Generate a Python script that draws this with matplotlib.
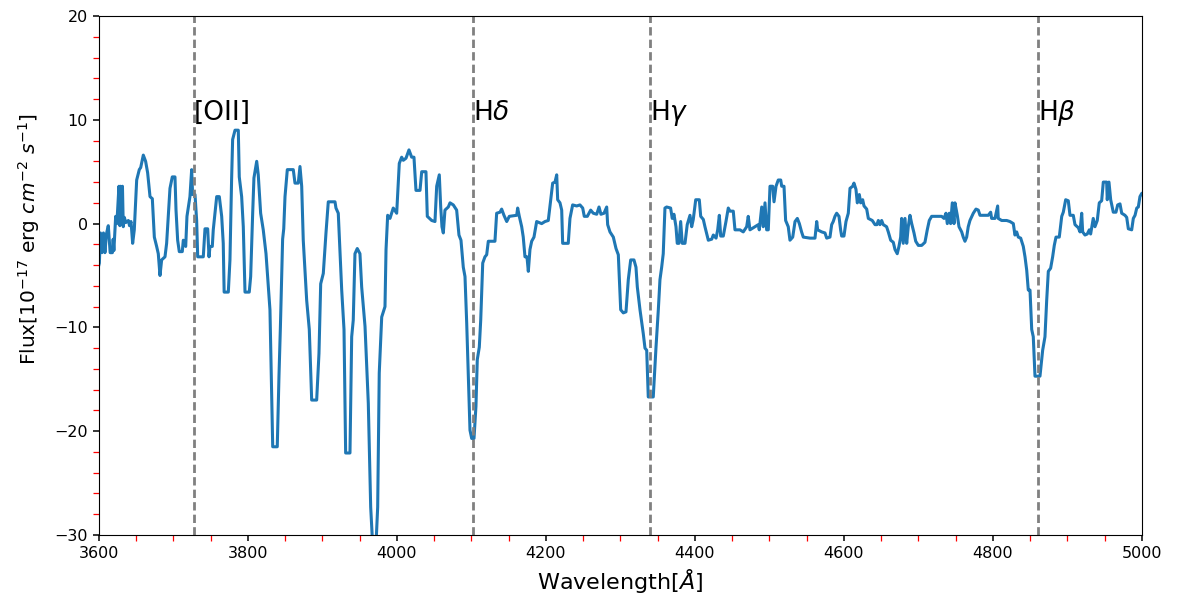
import matplotlib
matplotlib.use("Agg")
import matplotlib.pyplot as plt
from matplotlib.ticker import MultipleLocator

# spectrum (wavelength in Angstrom, flux in 1e-17 erg/cm2/s)
wave = [3598, 3600.5, 3602, 3604, 3606, 3608, 3610, 3612.5, 3615, 3618, 3619, 3620, 3622.4, 3624,
        3626.8, 3628, 3629, 3630.5, 3631.5, 3632.6, 3634, 3636, 3639.4, 3641, 3643, 3645.2, 3647.4,
        3650.6, 3654.1, 3656, 3659.5, 3662.6, 3665.3, 3668.5, 3671.6, 3674.3, 3677.4, 3679.6, 3681.9,
        3684.1, 3688.6, 3690.8, 3693, 3695.3, 3698.4, 3702, 3703.4, 3705.6, 3707.8, 3711.8, 3713.2,
        3716.4, 3718.1, 3722.1, 3724.4, 3725.7, 3728.9, 3731.1, 3732.5, 3740, 3742.3, 3745.9, 3747.7,
        3749, 3752.1, 3753.4, 3758, 3761.5, 3764.7, 3766.8,
        3768, 3773.6, 3775.8, 3778, 3779.4, 3782.6, 3787, 3788.3, 3791.5, 3793.7, 3796, 3801.7,
        3803.6, 3806.3, 3808, 3811.7, 3813.8, 3817, 3820.5, 3824.2, 3829.5, 3833.2, 3839.3, 3841.6,
        3843.5, 3845.2, 3846.5, 3848, 3849.7, 3852.8,
        3860.8, 3863.1, 3867.5, 3869.8, 3872.1, 3874.2, 3878.8, 3882.3, 3885.5, 3892.2, 3895.3,
        3897.6, 3901.1, 3904.7, 3907.8, 3916.8, 3918.1, 3921.2, 3925.8, 3928.9, 3931.1, 3936.9,
        3939.2, 3941.3, 3943.6, 3946.7, 3950.3, 3952.6, 3957.1, 3961.5, 3964.7, 3967.4, 3971.8,
        3974.1, 3976.2, 3979.5, 3983.9, 3985.3, 3987.5, 3990.6, 3995.0, 3999.6, 4003.1, 4006.3,
        4008.5, 4012.1, 4016.1, 4019.7, 4022.8, 4025.5, 4030.9, 4033.2, 4038.9, 4040.7, 4046.6,
        4051.0, 4053.3, 4056.8, 4058.7, 4060.4, 4062.2, 4064.4, 4068.9, 4071.2, 4075.6, 4080.1,
        4083.2, 4085.9, 4089.0, 4091.3, 4093.6, 4095.7, 4098.0, 4100.3, 4103.4, 4106.0, 4107.8,
        4110.5, 4112.4, 4115.1, 4118.1, 4120.4, 4122.6, 4131.5, 4133.8, 4138.3, 4140.5, 4143.6,
        4147.3, 4150.8, 4160.7, 4162.0, 4164.2, 4167.4, 4169.5, 4171.8, 4174.5, 4176.3, 4178.5,
        4180.8, 4183.9, 4187.5, 4194.2, 4198.7, 4203.1, 4206.3, 4209.0, 4212.1, 4214.4, 4215.7,
        4218.8, 4221.1, 4222.4, 4229.9, 4232.2, 4235.8, 4241.2, 4245.6, 4249.3, 4251.4, 4255.5,
        4260.0, 4263.5, 4268.1, 4271.2, 4273.8, 4277.9, 4281.5, 4282.8, 4285.9, 4290.4, 4294.0,
        4297.1, 4300.3, 4303.8, 4307.4, 4310.5, 4313.7, 4318.1, 4320.8, 4322.6, 4326.2, 4330.6,
        4332.9, 4335.2, 4337.3, 4344.0, 4347.7, 4350.8, 4353.0, 4355.3, 4357.4, 4359.7, 4362.0,
        4367.3, 4369.5, 4371.8, 4374.5, 4376.2, 4378.5, 4380.8, 4382.9, 4386.6, 4389.6, 4393.3,
        4395.6, 4397.7, 4401.0, 4405.8, 4407.7, 4411.2, 4413.4, 4417.9, 4422.5, 4424.6, 4428.3,
        4430.5, 4432.7, 4434.5, 4438.0, 4441.6, 4444.7, 4447.0, 4451.4, 4453.7, 4460.4, 4464.8,
        4469.4, 4471.5, 4473.8, 4480.5, 4485.0, 4486.3, 4489.6, 4491.7, 4494.0, 4496.2, 4498.4,
        4500.7, 4504.3, 4506.1, 4508.8, 4511.8, 4515.1, 4516.4, 4519.5, 4521.7, 4525.2, 4527.5,
        4531.2, 4534.3, 4537.4, 4540.1, 4543.1, 4545.4, 4554.4, 4561.1, 4563.4, 4564.7, 4570.1,
        4574.5, 4576.8, 4581.2, 4583.5, 4585.6, 4587.9, 4590.2, 4593.3, 4595.5, 4596.9, 4600.0,
        4602.7, 4605.8, 4608.1, 4611.7, 4613.4, 4616.1, 4617.9, 4620.6, 4622.4, 4625.1, 4626.9,
        4630.5, 4632.7, 4638.0, 4641.7, 4644.3, 4646.1, 4648.3, 4650.6, 4652.7, 4657.2, 4659.5,
        4662.7, 4666.2, 4668.5, 4671.5, 4673.8, 4676.1, 4677.4, 4679.6, 4681.9, 4684.2, 4686.3,
        4688.6, 4690.9, 4694.0, 4696.3, 4699.8, 4704.3, 4708.7, 4711.8, 4714.5, 4717.7, 4724.4,
        4731.1, 4734.3, 4736.9, 4738.7, 4741.4, 4743.2, 4745.4, 4747.7, 4749.0, 4752.1, 4754.4,
        4758.0, 4760.1, 4762.4, 4764.7, 4766.8, 4769.1, 4773.6, 4777.2, 4780.3, 4782.6, 4787.0,
        4793.7, 4796.9, 4798.2, 4802.7, 4806.3, 4807.1, 4811.7, 4816.1, 4818.4, 4822.8, 4827.3,
        4829.5, 4831.8, 4834.0, 4837.2, 4840.7, 4843.0, 4845.3, 4847.4, 4849.7, 4852.0, 4854.1,
        4856.4, 4863.1, 4866.7, 4869.8, 4872.1, 4874.3, 4877.4, 4880.1, 4882.3, 4884.6, 4889.0,
        4892.3, 4894.4, 4897.6, 4901.1, 4903.4, 4907.8, 4910.1, 4914.6, 4916.8, 4919.1, 4920.4,
        4923.5, 4926.6, 4929.3, 4931.1, 4934.6, 4936.9, 4940.0, 4942.7, 4945.9, 4948.1, 4952.6,
        4953.4, 4955.7, 4958.0, 4961.5, 4965.1, 4967.4, 4970.5, 4972.8, 4977.2, 4979.5, 4981.7,
        4986.2, 4988.4, 4990.7, 4993.0, 4995.1, 4997.3, 4999.6, 5002]

flux = [-4.5, -3.8, -0.9, -2.8, -0.9, -2.8, -1.0, -0.2, -2.8, -2.8, -1.5, -2.6, 0.7, 0.0,
        3.6, -0.2, 3.6, 0.2, 3.6, -0.3, 0.6, 0.1, 0.3, -0.2, 0.2, -1.9, -0.6,
        4.2, 5.2, 5.4, 6.6, 6.0, 4.9, 2.6, 2.4, -1.3, -2.2, -2.9, -5.0,
        -3.5, -3.2, -1.9, 0.7, 3.4, 4.5, 4.5, 1.3, -1.6, -2.7, -2.7, -1.6,
        -2.2, 0.7, 2.6, 5.2, 2.8, 2.8, 0.3, -3.2, -3.2, -0.5, -0.5, -3.2,
        -2.2, -2.2, -0.6, 2.6, 2.6, 0.7, -1.9,
        -6.6, -6.6, -3.5, 4.2, 8.1, 9.0, 9.0, 4.5, 2.6, -0.3, -6.6, -6.6,
        -5.1, 1.0, 4.4, 6.0, 4.7, 1.0, -0.6, -2.9, -8.3, -21.5, -21.5, -14.7,
        -10.0, -5.0, -1.5, -0.5, 2.6, 5.2,
        5.2, 3.9, 3.9, 5.5, 3.6, -1.6, -7.4, -10.2, -17.0, -17.0, -12.5,
        -5.8, -4.8, -0.9, 2.1, 2.1, 1.5, 1.0, -6.4, -10.2, -22.1, -22.1,
        -10.9, -9.3, -2.9, -2.4, -2.9, -6.1, -9.9, -17.3, -27.3, -31.0, -31.0,
        -27.3, -14.4, -9.0, -8.0, -2.5, 0.8, 0.5, 1.5, 1.0, 5.8, 6.4,
        6.1, 6.3, 7.1, 6.4, 6.4, 3.2, 3.2, 5.0, 5.0, 0.7, 0.3,
        0.2, 3.6, 4.7, 1.6, -0.3, -0.9, 1.3, 1.6, 2.0, 1.8, 1.3,
        -1.1, -1.6, -4.2, -5.1, -9.6, -14.4, -19.9, -20.7, -20.7, -17.6, -13.1,
        -11.9, -9.3, -3.8, -3.2, -3.0, -1.7, -1.7, 1.0, 1.1, 1.4, 0.8,
        0.2, 0.7, 0.8, 1.5, 0.7, -0.3, -1.3, -3.2, -3.2, -4.6, -2.5,
        -1.7, -1.3, 0.2, 0.0, 0.2, 0.3, 2.3, 3.9, 4.0, 4.7, 2.3,
        2.0, 1.3, -1.9, -1.9, 0.5, 1.8, 1.7, 1.8, 1.5, 0.7, 0.7,
        1.3, 1.0, 0.9, 1.6, 0.9, 1.0, 1.6, -0.1, -0.8, -1.3, -2.4,
        -3.0, -8.3, -8.6, -8.5, -5.4, -3.5, -3.5, -4.2, -6.1, -8.3, -10.6,
        -12.0, -12.2, -16.7, -16.7, -11.9, -8.3, -5.4, -4.2, -2.9, 1.5, 1.6,
        1.5, 0.5, 0.9, -0.3, -1.9, -1.9, 0.2, -1.9, -1.9, -0.1, 0.8,
        -0.3, 0.4, 2.3, 2.3, 0.7, 0.4, -0.3, -1.6, -1.5, -1.1, -1.4,
        -0.6, 0.8, -1.2, -1.2, 0.2, 1.5, 1.2, 1.2, -0.6, -0.6, -0.8,
        -0.3, 0.7, -0.6, -0.3, -0.1, -0.6, 1.6, -0.3, 2.0, -0.6, -0.6,
        3.6, 3.6, 2.1, 3.6, 4.2, 4.2, 3.6, 3.6, 0.3, -0.3, -1.6,
        -1.3, 0.2, 0.5, 0.0, -0.8, -1.3, -1.4, -1.4, 0.2, -0.6, -0.8,
        -0.9, -1.4, -1.3, -0.1, 0.2, 0.7, 1.0, 0.7, -0.6, -1.2, -1.2,
        0.2, 1.0, 3.4, 3.6, 3.9, 3.3, 2.0, 2.8, 2.0, 2.3, 1.7,
        1.4, 0.5, 0.3, -0.1, -0.1, 0.3, -0.1, 0.3, -0.1, -0.3, -0.8,
        -1.6, -1.8, -2.5, -2.9, -2.2, -1.3, 0.5, -1.9, 0.5, -1.9, -0.3,
        0.8, 0.0, -0.9, -1.7, -2.1, -2.1, -1.8, -0.6, 0.3, 0.7, 0.7,
        0.7, 0.5, 1.0, 0.0, 1.0, 0.0, 2.0, 0.0, 2.0, 0.8, -0.3,
        -0.8, -1.3, -1.7, -1.3, -0.3, 0.3, 1.0, 1.4, 1.3, 0.8, 0.8,
        0.8, 1.1, 0.5, 0.5, 1.7, 0.5, 0.3, 0.3, 0.3, 0.2, 0.0,
        -1.1, -0.8, -1.3, -1.4, -2.2, -3.2, -4.5, -6.4, -6.4, -10.2, -10.9,
        -14.7, -14.7, -12.2, -10.9, -7.4, -4.6, -4.3, -3.2, -2.1, -1.3, -1.3,
        0.7, 1.1, 2.3, 2.2, 0.8, 0.8, -0.1, -0.4, -0.8, 1.0, -0.8,
        -1.1, -1.0, -0.6, -1.0, 0.5, -0.3, 0.3, 2.0, 2.2, 4.0, 4.0,
        2.3, 4.0, 2.3, 1.1, 1.1, 1.8, 1.9, 1.0, 0.8, 0.6, -0.5,
        -0.6, 0.5, 0.8, 1.5, 1.6, 2.6, 2.9, 3.0]

# emission / absorption line markers
line_names = ["[OII]", r"H$\delta$", r"H$\gamma$", r"H$\beta$"]
line_waves = [3727, 4102, 4340, 4861]

fig = plt.figure(figsize=(11.84, 6.02), dpi=100)
ax = fig.add_axes([0.0836, 0.1113, 0.8809, 0.8621])

ax.plot(wave, flux, color="#1f77b4", linewidth=2.2)

for name, lw in zip(line_names, line_waves):
    ax.axvline(lw, color="grey", linestyle=(0, (3, 1.5)), linewidth=2)
    ax.text(lw, 10, name, fontsize=19)

ax.set_xlim(3600, 5000)
ax.set_ylim(-30, 20)
ax.xaxis.set_major_locator(MultipleLocator(200))
ax.xaxis.set_minor_locator(MultipleLocator(50))
ax.yaxis.set_major_locator(MultipleLocator(10))
ax.yaxis.set_minor_locator(MultipleLocator(2))
ax.tick_params(which="major", length=4.5, width=1.1, labelsize=11.5)
ax.tick_params(which="minor", length=4.3, width=0.9, color="red")

ax.set_xlabel(r"Wavelength[$\AA$]", fontsize=16)
ax.set_ylabel(r"Flux[$10^{-17}$ erg $cm^{-2}$ $s^{-1}$]", fontsize=14.5)
ax.yaxis.set_label_coords(-0.055, 0.57)

fig.savefig("out.png", dpi=100)
